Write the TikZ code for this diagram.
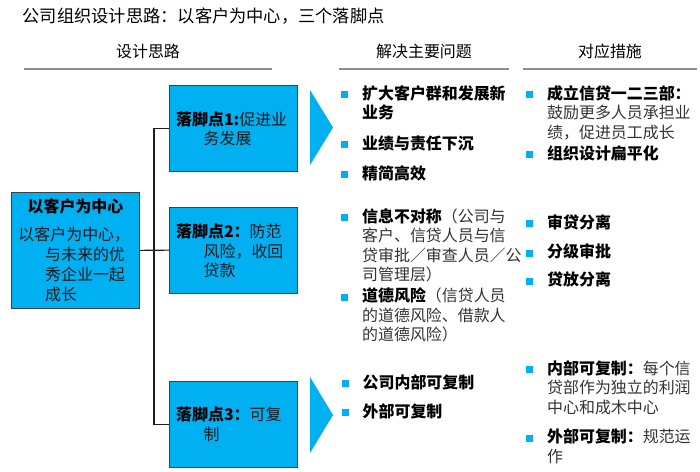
\documentclass[tikz,border=0pt]{standalone}
\usepackage{fontspec}
\setmainfont{Noto Sans CJK SC}
\definecolor{cy}{HTML}{00B0F0}
\definecolor{boxline}{HTML}{404040}
\definecolor{txt}{HTML}{333333}
\definecolor{rulec}{HTML}{8C8C8C}
\definecolor{linkc}{HTML}{1E1E1E}
\newcommand\bkb[1]{{\bfseries\color{black}#1}}
\newcommand\itm[6][]{%
  \node[bul] (b#2) at (#3,#5+1.5) {};
  \node[item,#1] (t#2) at (#4,#5+6) {#6};}
\begin{document}
\begin{tikzpicture}[x=1bp,y=-1bp,
  box/.style={draw=boxline, fill=cy, line width=0.8bp, minimum width=128bp,
    minimum height=86bp, inner sep=0, anchor=north west},
  boxtxt/.style={anchor=west, inner sep=0, text width=120bp, align=left,
    font=\fontsize{16}{19.5}\selectfont, text=black!90},
  bul/.style={fill=cy, minimum size=7bp, inner sep=0},
  item/.style={anchor=base west, inner sep=0, text width=170bp, align=left,
    font=\fontsize{16}{19.5}\selectfont, text=txt},
  bold/.style={font=\fontsize{16}{19.5}\selectfont\bfseries, text=black},
  head/.style={anchor=base, inner sep=0, font=\fontsize{16}{19}\selectfont, text=black},
  rule/.style={draw=rulec, line width=1.2bp},
  link/.style={draw=linkc, line width=1.2bp}]
\useasboundingbox (0,0) rectangle (700,472);

% title and headers
\node[anchor=base west, inner sep=0, font=\fontsize{17.3}{20}\selectfont] (title)
  at (22.5,23) {公司组织设计思路：以客户为中心，三个落脚点};
\node[head] (h1) at (148,58) {设计思路};
\node[head] (h2) at (424,58) {解决主要问题};
\node[head] (h3) at (610,58) {对应措施};
\draw[rule] (24,69) -- (272,69);
\draw[rule] (339,69) -- (509,69);
\draw[rule] (523,69) -- (697,69);

% centre box
\node[box, minimum height=116.6bp] (c) at (11,191.7) {};
\node[anchor=base, inner sep=0, font=\fontsize{16}{19.5}\selectfont\bfseries] (ct)
  at (75.5,213) {以客户为中心};
\node[anchor=base west, inner sep=0, text width=125bp, align=left,
  font=\fontsize{16}{20}\selectfont, text=black!90] (cb)
  at (18.3,241) {以客户为中心，\\\hspace*{26.7bp}与未来的优\\\hspace*{26.7bp}秀企业一起\\\hspace*{26.7bp}成长};

% three boxes
\node[box] (b1) at (169,85) {};
\node[box] (b2) at (169,206.7) {};
\node[box] (b3) at (169,380.7) {};
\node[boxtxt] (b1t) at ([xshift=7bp,yshift=-0.5bp]b1.west)
  {\bkb{落脚点1:}促进业\\\hspace*{27.5bp}务发展};
\node[boxtxt] (b2t) at ([xshift=7bp,yshift=-1bp]b2.west)
  {\bkb{落脚点2：}防范\\\hspace*{27.5bp}风险，收回\\\hspace*{27.5bp}贷款};
\node[boxtxt] (b3t) at ([xshift=7bp]b3.west)
  {\bkb{落脚点3：}可复\\\hspace*{27.5bp}制};

% connectors
\draw[link] (b1.west) -- ++(-15,0) |- (b3.west);
\draw[link] (c.east) -- (b2.west);

% chevrons
\fill[cy] (310,90) -- (333,127.5) -- (310,165) -- cycle;
\fill[cy] (310,377) -- (333,415) -- (310,453) -- cycle;

% column 2
\itm[bold]{a1}{344.5}{362}{93.3}{扩大客户群和发展新\\业务}
\itm[bold]{a2}{344.5}{362}{143.3}{业绩与责任下沉}
\itm[bold]{a3}{344.5}{362}{173.3}{精简高效}
\itm{a4}{344.5}{362}{216.5}{\bkb{信息不对称}（公司与\\客户、信贷人员与信\\贷审批／审查人员／公\\司管理层）}
\itm{a5}{344.5}{362}{296}{\bkb{道德风险}（信贷人员\\的道德风险、借款人\\的道德风险）}
\itm[bold]{a6}{345}{362.5}{382.3}{公司内部可复制}
\itm[bold]{a7}{345}{362.5}{411}{外部可复制}

% column 3
\itm{c1}{529.5}{547}{93.3}{\bkb{成立信贷一二三部：}\\鼓励更多人员承担业\\绩，促进员工成长}
\itm[bold]{c2}{529.5}{547}{153.3}{组织设计扁平化}
\itm[bold]{c3}{529.5}{547}{222.3}{审贷分离}
\itm[bold]{c4}{529.5}{547}{251.7}{分级审批}
\itm[bold]{c5}{529.5}{547}{280}{贷放分离}
\itm{c6}{529.5}{547}{368.3}{\bkb{内部可复制：}每个信\\贷部作为独立的利润\\中心和成木中心}
\itm{c7}{529.5}{547}{436.7}{\bkb{外部可复制：}规范运\\作}
\end{tikzpicture}
\end{document}
